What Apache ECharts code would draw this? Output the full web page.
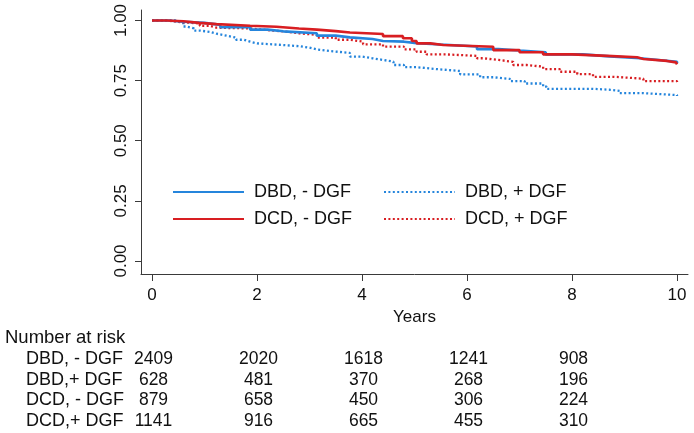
<!DOCTYPE html>
<html>
<head>
<meta charset="utf-8">
<script src="https://cdn.jsdelivr.net/npm/echarts@6/dist/echarts.min.js"></script>
<style>
html,body{margin:0;padding:0;background:#fff;}
#c{width:694px;height:433px;}
</style>
</head>
<body>
<div id="c"></div>
<script>
// ---- data ----
var seriesNames = ['DBD, - DGF', 'DCD, - DGF', 'DBD, + DGF', 'DCD, + DGF'];
var dbdNoDgf = [[0,1],[0.3,0.995],[0.6,0.99],[1.0,0.982],[1.3,0.972],[1.87,0.962],[2.2,0.955],[2.5,0.947],[3.14,0.937],[3.5,0.93],[3.77,0.923],[4.2,0.915],[4.4,0.912],[4.8,0.906],[5.04,0.9],[5.5,0.892],[6.19,0.881],[6.6,0.875],[7.0,0.868],[7.5,0.859],[8.2,0.851],[8.72,0.843],[9.3,0.835],[9.7,0.828],[10,0.822]];
var dcdNoDgf = [[0,1],[0.28,0.997],[0.6,0.99],[0.9,0.985],[1.23,0.978],[1.87,0.974],[2.37,0.967],[2.8,0.962],[3.14,0.956],[3.5,0.95],[3.77,0.944],[4.4,0.935],[4.78,0.926],[4.95,0.915],[5.04,0.905],[5.3,0.898],[5.55,0.891],[6.5,0.877],[7.0,0.868],[7.45,0.859],[8.0,0.853],[8.67,0.847],[9.24,0.84],[9.36,0.832],[9.81,0.826],[9.98,0.818],[10,0.818]];
var dbdDgf = [[0,1],[0.45,0.995],[0.53,0.988],[0.6,0.975],[0.66,0.967],[0.8,0.958],[0.91,0.953],[1.1,0.945],[1.23,0.937],[1.42,0.929],[1.6,0.92],[1.75,0.912],[1.87,0.905],[2.0,0.898],[2.5,0.893],[2.82,0.887],[3.0,0.88],[3.14,0.873],[3.4,0.865],[3.77,0.85],[4.0,0.843],[4.2,0.836],[4.4,0.829],[4.6,0.815],[4.8,0.806],[5.04,0.798],[5.42,0.79],[5.87,0.776],[6.25,0.764],[6.5,0.757],[6.82,0.748],[7.1,0.738],[7.45,0.725],[7.52,0.716],[8.4,0.712],[8.72,0.707],[8.91,0.698],[9.36,0.69],[10,0.686]];
var dcdDgf = [[0,1],[0.3,0.993],[0.55,0.988],[0.91,0.978],[1.1,0.97],[1.23,0.967],[1.87,0.96],[2.2,0.955],[2.5,0.947],[2.8,0.94],[3.14,0.929],[3.5,0.92],[3.77,0.912],[4.02,0.901],[4.4,0.891],[4.8,0.88],[5.04,0.87],[5.23,0.859],[5.6,0.853],[6.19,0.843],[6.3,0.836],[6.6,0.828],[6.88,0.815],[7.14,0.808],[7.45,0.798],[7.77,0.787],[8.1,0.777],[8.4,0.766],[8.8,0.758],[9.36,0.748],[10,0.743]];
var xTicks = [0, 2, 4, 6, 8, 10];
var yTicks = [0, 0.25, 0.5, 0.75, 1];
var riskTitle = 'Number at risk';
var riskTimes = [0, 2, 4, 6, 8];
var riskLabels = ['DBD, - DGF', 'DBD,+ DGF', 'DCD, - DGF', 'DCD,+ DGF'];
var riskDbdNoDgf = [2409, 2020, 1618, 1241, 908];
var riskDbdDgf = [628, 481, 370, 268, 196];
var riskDcdNoDgf = [879, 658, 450, 306, 224];
var riskDcdDgf = [1141, 916, 665, 455, 310];
var riskRows = [riskDbdNoDgf, riskDbdDgf, riskDcdNoDgf, riskDcdDgf];

// ---- style ----
var BLUE = '#2585dc', RED = '#d81e22', AX = '#3a3a3a';
var FONT = 'Liberation Sans, Arial, Helvetica, sans-serif';
var TITLEFONT = '18.5px ' + FONT;
var LABFONT = '18px ' + FONT;
var NUMFONT = '17.5px ' + FONT;

var chart = echarts.init(document.getElementById('c'), null, {renderer: 'canvas'});

function lineSeries(name, data, color, dotted) {
  return {
    name: name, type: 'line', step: 'end', data: data,
    symbol: 'none', showSymbol: false, animation: false,
    lineStyle: dotted ? {color: color, width: 2.3, type: [2, 2.4]} : {color: color, width: 2.6},
    itemStyle: {color: color}
  };
}

var legendText = {fontFamily: FONT, fontSize: 18, color: '#111', padding: [0, 0, 0, 5]};
function legendData(names) {
  return names.map(function (n) { return {name: n, itemStyle: {opacity: 0}}; });
}

chart.setOption({
  animation: false,
  backgroundColor: '#fff',
  grid: {left: 141, right: 6, top: 10, bottom: 159, containLabel: false},
  xAxis: {
    type: 'value', min: -0.2095, max: 10.2095,
    name: 'Years', nameLocation: 'middle', nameGap: 33,
    nameTextStyle: {fontFamily: FONT, fontSize: 17, color: '#111'},
    axisLine: {show: true, onZero: false, lineStyle: {color: AX, width: 1}},
    axisTick: {show: true, length: 7, customValues: xTicks, lineStyle: {color: AX}},
    axisLabel: {customValues: xTicks, fontFamily: FONT, fontSize: 17, color: '#111', margin: 13},
    splitLine: {show: false}
  },
  yAxis: {
    type: 'value', min: -0.0541, max: 1.0437,
    axisLine: {show: true, onZero: false, lineStyle: {color: AX, width: 1}},
    axisTick: {show: true, length: 6, customValues: yTicks, lineStyle: {color: AX}},
    axisLabel: {customValues: yTicks, rotate: 90, fontFamily: FONT, fontSize: 17, color: '#111', margin: 11,
      formatter: function (v) { return v.toFixed(2); }},
    splitLine: {show: false}
  },
  legend: [
    {data: legendData([seriesNames[0], seriesNames[1]]), orient: 'vertical', left: 172, top: 183, padding: 0,
     itemWidth: 71, itemHeight: 18, itemGap: 9, textStyle: legendText},
    {data: legendData([seriesNames[2], seriesNames[3]]), orient: 'vertical', left: 383, top: 183, padding: 0,
     itemWidth: 71, itemHeight: 18, itemGap: 9, textStyle: legendText}
  ],
  series: [
    lineSeries(seriesNames[2], dbdDgf, BLUE, true),
    lineSeries(seriesNames[3], dcdDgf, RED, true),
    lineSeries(seriesNames[0], dbdNoDgf, BLUE, false),
    lineSeries(seriesNames[1], dcdNoDgf, RED, false)
  ]
});

// ---- risk table ----
var rowY = [359, 380, 400.5, 421];
var els = [{type: 'text', x: 5, y: 338,
  style: {text: riskTitle, font: TITLEFONT, fill: '#111', align: 'left', verticalAlign: 'middle'}}];
riskLabels.forEach(function (lab, i) {
  els.push({type: 'text', x: 26, y: rowY[i],
    style: {text: lab, font: LABFONT, fill: '#111', align: 'left', verticalAlign: 'middle'}});
  riskRows[i].forEach(function (n, j) {
    var px = chart.convertToPixel({xAxisIndex: 0}, riskTimes[j]);
    els.push({type: 'text', x: px + 1.5, y: rowY[i],
      style: {text: String(n), font: NUMFONT, fill: '#111', align: 'center', verticalAlign: 'middle'}});
  });
});
chart.setOption({graphic: els});
</script>
</body>
</html>
